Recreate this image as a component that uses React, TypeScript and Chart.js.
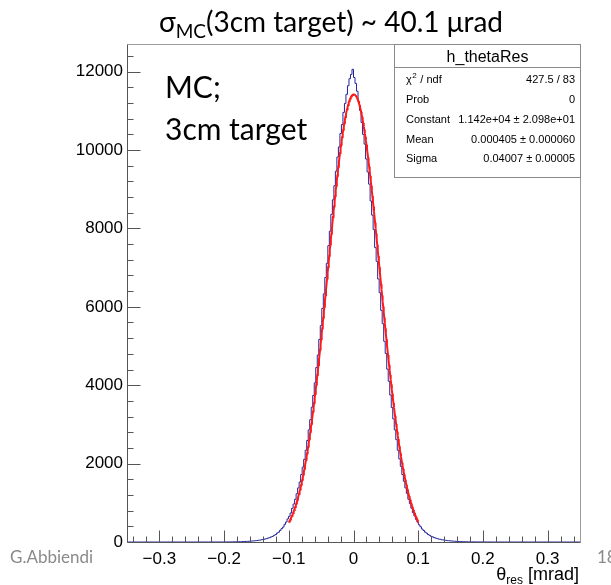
import { useEffect, useRef } from 'react';
import { Chart, registerables } from 'chart.js';

Chart.register(...registerables);

// Histogram binning of h_thetaRes (300 bins over [-0.35, 0.35] mrad)
const HIST_MIN = -0.35;
const HIST_MAX = 0.35;
const N_BINS = 300;
// Index of the first bin stored in binCounts; every other bin is empty
const FIRST_FILLED_BIN = 58;
const binCounts = [
  1, 0, 0, 1, 0, 1, 1, 2, 1, 3,
  2, 3, 3, 5, 4, 6, 6, 8, 8, 11,
  12, 13, 16, 17, 22, 23, 28, 30, 36, 39,
  47, 50, 61, 65, 78, 84, 101, 109, 130, 143,
  171, 188, 226, 250, 296, 340, 380, 450, 510, 590,
  655, 740, 860, 970, 1090, 1230, 1380, 1530, 1720, 1910,
  2110, 2340, 2590, 2860, 3120, 3440, 3740, 4060, 4450, 4770,
  5170, 5520, 5960, 6330, 6750, 7110, 7560, 7930, 8360, 8730,
  9090, 9460, 9820, 10080, 10420, 10650, 10960, 11190, 11420, 11640,
  11820, 11930,
  12060, 11850, 11700, 11500, 11240, 11010, 10700, 10400, 10150, 9770,
  9440, 9130, 8700, 8340, 7970, 7510, 7160, 6710, 6360, 5910,
  5570, 5120, 4810, 4410, 4100, 3750, 3430, 3140, 2860, 2610,
  2340, 2120, 1930, 1720, 1550, 1380, 1240, 1090, 980, 860,
  750, 665, 578, 508, 437, 389, 332, 295, 252, 225,
  190, 170, 144, 131, 110, 99, 87, 74, 68, 57,
  53, 45, 41, 34, 32, 26, 25, 20, 19, 15,
  14, 11, 10, 9, 7, 7, 5, 5, 4, 3,
  4, 2, 2, 2, 1, 2, 1, 0, 1, 0,
  1, 0,
];

// Gaussian fit result
const FIT_CONSTANT = 1.142e4;
const FIT_MEAN = 0.000405;
const FIT_SIGMA = 0.04007;
const FIT_LO = -0.1;
const FIT_HI = 0.1;

const Y_MAX = 12705;

// Axis ticks and labels
const xTickValues = [-0.3, -0.2, -0.1, 0, 0.1, 0.2, 0.3];
const xTickLabels = ['\u22120.3', '\u22120.2', '\u22120.1', '0', '0.1', '0.2', '0.3'];
const xMinorStep = 0.02;
const yTickValues = [0, 2000, 4000, 6000, 8000, 10000, 12000];
const yTickLabels = ['0', '2000', '4000', '6000', '8000', '10000', '12000'];
const yMinorStep = 400;

const statsName = 'h_thetaRes';
const statsLabels = ['χ2 / ndf', 'Prob', 'Constant', 'Mean', 'Sigma'];
const statsValues = [
  '427.5 / 83',
  '0',
  '1.142e+04 ± 2.098e+01',
  '0.000405 ± 0.000060',
  '0.04007 ± 0.00005',
];

const titleMain = 'σ';
const titleSub = 'MC';
const titleRest = '(3cm target) ~ 40.1 μrad';
const noteLines = ['MC;', '3cm target'];
const authorText = 'G.Abbiendi';
const pageNumber = '18';

const ROOT_FONT = '"Liberation Sans", Arial, sans-serif';
const SLIDE_FONT = 'Lato, "Noto Sans", sans-serif';

const frameAndTicks = {
  id: 'frameAndTicks',
  afterDatasetsDraw(chart: any) {
    const { ctx, chartArea: a, scales } = chart;
    const xs = scales.x;
    const ys = scales.y;
    ctx.save();
    ctx.lineWidth = 1;
    // top and right frame
    ctx.strokeStyle = '#9a9a9a';
    ctx.beginPath();
    ctx.moveTo(Math.round(a.left) + 0.5, Math.round(a.top) + 0.5);
    ctx.lineTo(Math.round(a.right) + 0.5, Math.round(a.top) + 0.5);
    ctx.lineTo(Math.round(a.right) + 0.5, Math.round(a.bottom) + 0.5);
    ctx.stroke();
    // axis lines
    ctx.strokeStyle = '#555';
    ctx.beginPath();
    ctx.moveTo(Math.round(a.left) + 0.5, Math.round(a.top) + 0.5);
    ctx.lineTo(Math.round(a.left) + 0.5, Math.round(a.bottom) + 0.5);
    ctx.lineTo(Math.round(a.right) + 0.5, Math.round(a.bottom) + 0.5);
    ctx.stroke();

    // x ticks pointing into the frame
    const bottom = Math.round(a.bottom) + 0.5;
    ctx.beginPath();
    for (let k = Math.ceil(xs.min / xMinorStep - 1e-9); k * xMinorStep <= xs.max + 1e-9; k++) {
      const v = k * xMinorStep;
      const major = xTickValues.some((t) => Math.abs(t - v) < 1e-6);
      const px = Math.round(xs.getPixelForValue(v)) + 0.5;
      ctx.moveTo(px, bottom);
      ctx.lineTo(px, bottom - (major ? 12 : 6));
    }
    // y ticks
    const left = Math.round(a.left) + 0.5;
    for (let v = 0; v <= ys.max; v += yMinorStep) {
      const major = yTickValues.includes(v);
      const py = Math.round(ys.getPixelForValue(v)) + 0.5;
      ctx.moveTo(left, py);
      ctx.lineTo(left + (major ? 13 : 6), py);
    }
    ctx.stroke();
    ctx.restore();
  },
};

const annotations = {
  id: 'annotations',
  afterDraw(chart: any) {
    const { ctx, chartArea: a } = chart;
    ctx.save();
    ctx.textBaseline = 'alphabetic';

    // slide title
    ctx.fillStyle = '#000';
    const big = `28px ${SLIDE_FONT}`;
    const small = `19px ${SLIDE_FONT}`;
    ctx.font = big;
    const w1 = ctx.measureText(titleMain).width;
    const w3 = ctx.measureText(titleRest).width;
    ctx.font = small;
    const w2 = ctx.measureText(titleSub).width;
    let tx = 331 - (w1 + w2 + w3) / 2;
    const tb = 32;
    ctx.font = big;
    ctx.textAlign = 'left';
    ctx.fillText(titleMain, tx, tb);
    tx += w1;
    ctx.font = small;
    ctx.fillText(titleSub, tx, tb + 6);
    tx += w2;
    ctx.font = big;
    ctx.fillText(titleRest, tx, tb);

    // note inside the frame
    ctx.font = `30px ${SLIDE_FONT}`;
    ctx.fillText(noteLines[0], 165, 98);
    ctx.fillText(noteLines[1], 165, 140);

    // footer
    ctx.fillStyle = '#8a8a8a';
    ctx.font = `17px ${SLIDE_FONT}`;
    ctx.fillText(authorText, 10, 563);
    ctx.fillText(pageNumber, 597, 563);

    // axis title θ_res [mrad]
    ctx.fillStyle = '#000';
    ctx.font = `18px ${ROOT_FONT}`;
    const part3 = ' [mrad]';
    const wp3 = ctx.measureText(part3).width;
    const wth = ctx.measureText('θ').width;
    ctx.font = `12px ${ROOT_FONT}`;
    const wres = ctx.measureText('res').width;
    const right = Math.round(a.right) - 1;
    let ax = right - wp3 - wres - wth;
    ctx.font = `18px ${ROOT_FONT}`;
    ctx.fillText('θ', ax, 580);
    ax += wth;
    ctx.font = `12px ${ROOT_FONT}`;
    ctx.fillText('res', ax, 584);
    ax += wres;
    ctx.font = `18px ${ROOT_FONT}`;
    ctx.fillText(part3, ax, 580);

    // statistics box
    const bx0 = 394.5;
    const by0 = Math.round(a.top) + 0.5;
    const bx1 = Math.round(a.right) + 0.5;
    const by1 = 177.5;
    ctx.fillStyle = '#fff';
    ctx.fillRect(bx0, by0, bx1 - bx0, by1 - by0);
    ctx.strokeStyle = '#8a8a8a';
    ctx.lineWidth = 1;
    ctx.strokeRect(bx0, by0, bx1 - bx0, by1 - by0);
    ctx.beginPath();
    ctx.moveTo(bx0, 67.5);
    ctx.lineTo(bx1, 67.5);
    ctx.stroke();
    ctx.fillStyle = '#000';
    ctx.font = `16px ${ROOT_FONT}`;
    ctx.textAlign = 'center';
    ctx.fillText(statsName, (bx0 + bx1) / 2, 62);
    const rowY = [83, 103, 123, 143, 162];
    ctx.font = `11px ${ROOT_FONT}`;
    for (let i = 0; i < statsLabels.length; i++) {
      ctx.textAlign = 'left';
      const lbl = statsLabels[i];
      if (lbl.startsWith('χ2')) {
        ctx.font = `11px ${ROOT_FONT}`;
        ctx.fillText('χ', 406, rowY[i]);
        const wc = ctx.measureText('χ').width;
        ctx.font = `8px ${ROOT_FONT}`;
        ctx.fillText('2', 406 + wc + 0.5, rowY[i] - 5);
        const w2c = ctx.measureText('2').width;
        ctx.font = `11px ${ROOT_FONT}`;
        ctx.fillText(' / ndf', 406 + wc + w2c + 1, rowY[i]);
      } else {
        ctx.fillText(lbl, 406, rowY[i]);
      }
      ctx.textAlign = 'right';
      ctx.fillText(statsValues[i], 575, rowY[i]);
    }
    ctx.restore();
  },
};

export default function App() {
  const ref = useRef<HTMLCanvasElement>(null);

  useEffect(() => {
    const canvas = ref.current;
    if (!canvas) return;

    const width = (HIST_MAX - HIST_MIN) / N_BINS;
    const histPoints: { x: number; y: number }[] = [];
    for (let i = 0; i < N_BINS; i++) {
      const k = i - FIRST_FILLED_BIN;
      const c = k >= 0 && k < binCounts.length ? binCounts[k] : 0;
      histPoints.push({ x: HIST_MIN + i * width, y: c });
    }
    histPoints.push({ x: HIST_MAX, y: histPoints[histPoints.length - 1].y });

    const fitPoints: { x: number; y: number }[] = [];
    const nFit = 240;
    for (let i = 0; i <= nFit; i++) {
      const x = FIT_LO + ((FIT_HI - FIT_LO) * i) / nFit;
      const z = (x - FIT_MEAN) / FIT_SIGMA;
      fitPoints.push({ x, y: FIT_CONSTANT * Math.exp(-0.5 * z * z) });
    }

    const tickFont = { family: ROOT_FONT, size: 17 };

    const chart = new Chart(canvas, {
      type: 'line',
      data: {
        datasets: [
          {
            data: fitPoints,
            borderColor: '#ff1a1a',
            borderWidth: 2,
            pointRadius: 0,
            tension: 0,
            fill: false,
          },
          {
            data: histPoints,
            stepped: 'after',
            borderColor: '#23239c',
            borderWidth: 1,
            pointRadius: 0,
            fill: false,
          },
        ],
      },
      options: {
        responsive: false,
        animation: false,
        devicePixelRatio: 1,
        events: [],
        layout: { padding: { left: 0, right: 31, top: 44, bottom: 0 } },
        plugins: {
          legend: { display: false },
          tooltip: { enabled: false },
          title: { display: false },
        },
        scales: {
          x: {
            type: 'linear',
            min: HIST_MIN,
            max: HIST_MAX,
            grid: { display: false, drawTicks: false },
            border: { display: false },
            afterBuildTicks: (s: any) => {
              s.ticks = xTickValues.map((value) => ({ value }));
            },
            ticks: {
              autoSkip: false,
              maxRotation: 0,
              padding: 7,
              color: '#000',
              font: tickFont,
              callback: (_v: any, i: number) => xTickLabels[i],
            },
            afterFit: (s: any) => {
              s.height = 43;
            },
          },
          y: {
            type: 'linear',
            min: 0,
            max: Y_MAX,
            grid: { display: false, drawTicks: false },
            border: { display: false },
            afterBuildTicks: (s: any) => {
              s.ticks = yTickValues.map((value) => ({ value }));
            },
            ticks: {
              autoSkip: false,
              padding: 4,
              color: '#000',
              font: tickFont,
              callback: (_v: any, i: number) => yTickLabels[i],
            },
            afterFit: (s: any) => {
              s.width = 127;
            },
          },
        },
      } as any,
      plugins: [frameAndTicks, annotations],
    });

    return () => chart.destroy();
  }, []);

  return (
    <div
      style={{
        position: 'absolute',
        left: 0,
        top: 0,
        width: 611,
        height: 585,
        background: '#fff',
        overflow: 'hidden',
      }}
    >
      <canvas ref={ref} width={611} height={585} style={{ display: 'block' }} />
    </div>
  );
}
